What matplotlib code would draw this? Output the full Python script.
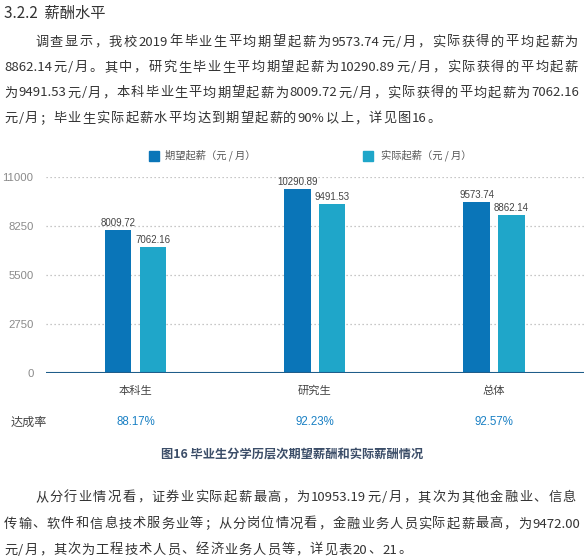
import re
import matplotlib
matplotlib.use('Agg')
import matplotlib.pyplot as plt
import matplotlib.transforms as mtransforms
from matplotlib.patches import Rectangle

plt.rcParams['font.family'] = ['Noto Sans CJK SC', 'DejaVu Sans']

# ---------------- data ----------------
categories = ['本科生', '研究生', '总体']
expected = [8009.72, 10290.89, 9573.74]
actual = [7062.16, 9491.53, 8862.14]
rates = ['88.17%', '92.23%', '92.57%']
yticks = [0, 2750, 5500, 8250, 11000]
series_names = ['期望起薪（元 / 月）', '实际起薪（元 / 月）']
title_text = '3.2.2  薪酬水平'
caption_text = '图16 毕业生分学历层次期望薪酬和实际薪酬情况'
rate_label = '达成率'
para1 = ['调查显示，我校2019年毕业生平均期望起薪为9573.74元/月，实际获得的平均起薪为',
         '8862.14元/月。其中，研究生毕业生平均期望起薪为10290.89元/月，实际获得的平均起薪',
         '为9491.53元/月，本科毕业生平均期望起薪为8009.72元/月，实际获得的平均起薪为7062.16',
         '元/月；毕业生实际起薪水平均达到期望起薪的90%以上，详见图16。']
para2 = ['从分行业情况看，证券业实际起薪最高，为10953.19元/月，其次为其他金融业、信息',
         '传输、软件和信息技术服务业等；从分岗位情况看，金融业务人员实际起薪最高，为9472.00',
         '元/月，其次为工程技术人员、经济业务人员等，详见表20、21。']

C_EXP = '#0a75b8'
C_ACT = '#1fa6c9'
TXT = '#333333'

W, H = 585, 557
fig = plt.figure(figsize=(W / 100, H / 100), dpi=100)


def fx(px):
    return px / W


def fy(py):
    return 1 - py / H


# ---------------- chart ----------------
ax_l, ax_r, ax_top, ax_bot = 46, 583.5, 176.7, 373.3
ax = fig.add_axes([fx(ax_l), fy(ax_bot), (ax_r - ax_l) / W, (ax_bot - ax_top) / H])
ax.set_xlim(-0.5, len(categories) - 0.5)
ax.set_ylim(0, 11000)
for s in ax.spines.values():
    s.set_visible(False)

for t in yticks[1:]:
    ax.axhline(t, color='#b5b5b5', lw=0.9, ls=(0, (1, 2.2)), zorder=0)
ax.axhline(0, color='#1f5d8a', lw=1.5, zorder=3)

bw = 0.148
off = 0.097
xs = list(range(len(categories)))
b1 = ax.bar([x - off for x in xs], expected, width=bw, color=C_EXP, zorder=2)
b2 = ax.bar([x + off for x in xs], actual, width=bw, color=C_ACT, zorder=2)
for bars, vals in ((b1, expected), (b2, actual)):
    for r, v in zip(bars, vals):
        ax.annotate(f'{v:.2f}', (r.get_x() + r.get_width() / 2, v), xytext=(0, 1.5),
                    textcoords='offset points', ha='center', va='bottom',
                    fontsize=7.0, color='#444444', family=['Liberation Sans', 'DejaVu Sans'])

ax.set_xticks([])
ax.set_yticks(yticks)
ax.set_yticklabels([str(t) for t in yticks], family=['Liberation Sans', 'DejaVu Sans'])
ax.tick_params(axis='y', length=0, pad=9, labelsize=8.2, labelcolor='#8a8a8a')

blend = mtransforms.blended_transform_factory(ax.transData, fig.transFigure)
for x, c, r in zip(xs, categories, rates):
    fig.text(x, fy(391), c, transform=blend, ha='center', va='center', fontsize=8.1, color='#444444')
    fig.text(x, fy(422), r, transform=blend, ha='center', va='center', fontsize=8.3,
             color='#1a80c4', family=['Liberation Sans', 'DejaVu Sans'])
fig.text(fx(11), fy(422), rate_label, ha='left', va='center', fontsize=8.7, color='#444444')
fig.text(fx(292), fy(454), caption_text, ha='center', va='center', fontsize=8.8,
         color='#3b4d68', fontweight='bold')

# legend
for (lx, tx), name, col in zip(((149, 165), (363, 381)), series_names, (C_EXP, C_ACT)):
    fig.patches.append(Rectangle((fx(lx), fy(160.5)), 10 / W, 10 / H, transform=fig.transFigure,
                                 color=col, figure=fig))
    fig.text(fx(tx), fy(155.5), name, ha='left', va='center', fontsize=7.4, color='#555555')

# ---------------- page text ----------------
fig.text(fx(4), fy(13), title_text, ha='left', va='center', fontsize=11, color=TXT)

renderer = fig.canvas.get_renderer()
FS = 9.5


def tok(s):
    return re.findall(r'[A-Za-z0-9.%/]+|.', s)


_cache = {}


def adv(t):
    if t in _cache:
        return _cache[t]
    a = fig.text(0, 0, '口' + t + '口', fontsize=FS)
    b = fig.text(0, 0, '口口', fontsize=FS)
    w = a.get_window_extent(renderer).width - b.get_window_extent(renderer).width
    a.remove()
    b.remove()
    _cache[t] = w
    return w


def draw_para(lines, starts, ends, baselines):
    gap = 0
    for i, (ln, x0, x1, yb) in enumerate(zip(lines, starts, ends, baselines)):
        ts = tok(ln)
        ws = [adv(t) for t in ts]
        if x1 is not None:
            gap = (x1 - x0 - sum(ws)) / (len(ts) - 1)
        x = x0
        for t, w in zip(ts, ws):
            fig.text(fx(x), fy(yb), t, ha='left', va='baseline', fontsize=FS, color=TXT)
            x += w + gap


draw_para(para1, [35, 4, 4, 4], [578, 578, 579, None], [45.5, 71, 96.5, 122])
draw_para(para2, [35, 4, 4], [576, 580, None], [501, 527.5, 553.5])

fig.savefig('out.png', dpi=100)
